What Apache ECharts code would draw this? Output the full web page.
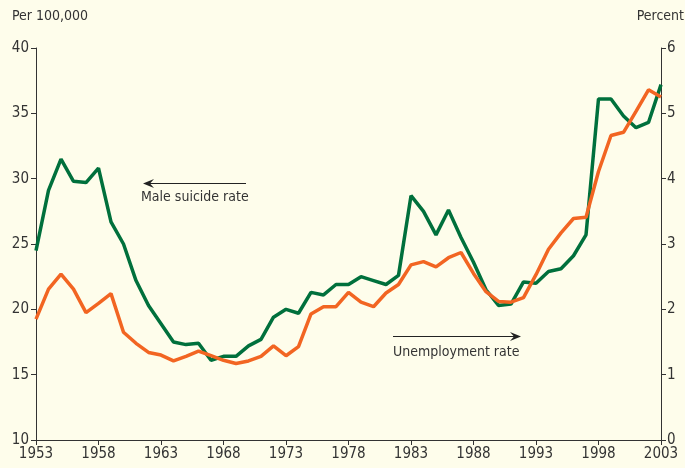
<!DOCTYPE html>
<html>
<head>
<meta charset="utf-8">
<script src="https://cdn.jsdelivr.net/npm/echarts@6/dist/echarts.min.js"></script>
<style>
  html, body { margin: 0; padding: 0; background: #fefdeb; }
  #chart { width: 685px; height: 468px; }
</style>
</head>
<body>
<div id="chart"></div>
<script>
// years 1953..2003
const years = [];
for (let y = 1953; y <= 2003; y++) years.push(String(y));

// male suicide rate, per 100,000 (left axis)
const suicideRate = [
  24.5, 29.1, 31.5, 29.8, 29.7, 30.8, 26.7, 25.0, 22.2, 20.3,
  18.9, 17.5, 17.3, 17.4, 16.1, 16.4, 16.4, 17.2, 17.7, 19.4,
  20.0, 19.7, 21.3, 21.1, 21.9, 21.9, 22.5, 22.2, 21.9, 22.6,
  28.7, 27.5, 25.7, 27.6, 25.5, 23.6, 21.5, 20.3, 20.4, 22.1,
  22.0, 22.9, 23.1, 24.1, 25.7, 36.1, 36.1, 34.8, 33.9, 34.3,
  37.2
];

// unemployment rate, percent (right axis)
const unemployment = [
  1.85, 2.31, 2.54, 2.31, 1.95, 2.09, 2.24, 1.65, 1.48, 1.34,
  1.30, 1.21, 1.28, 1.36, 1.29, 1.22, 1.17, 1.21, 1.28, 1.44,
  1.29, 1.43, 1.93, 2.04, 2.04, 2.26, 2.11, 2.04, 2.25, 2.38,
  2.68, 2.73, 2.65, 2.79, 2.87, 2.55, 2.27, 2.12, 2.11, 2.18,
  2.53, 2.92, 3.17, 3.39, 3.41, 4.11, 4.66, 4.71, 5.03, 5.36,
  5.25
];

const FONT = "'Liberation Sans Narrow', 'DejaVu Sans Condensed', sans-serif";
const TEXT = "#333333";
const AXIS = "#333333";

const chartDom = document.getElementById("chart");
const myChart = echarts.init(chartDom, null, { renderer: "canvas" });

// arrow helper for the two annotations
function arrow(x1, x2, y) {
  const dir = x2 > x1 ? 1 : -1;
  return [
    {
      type: "line",
      shape: { x1: x1, y1: y, x2: x2 - dir * 6, y2: y },
      style: { stroke: "#222", lineWidth: 1.2 },
    },
    {
      type: "polygon",
      shape: {
        points: [[x2, y], [x2 - dir * 11, y - 4.5], [x2 - dir * 7, y], [x2 - dir * 11, y + 4.5]],
      },
      style: { fill: "#222" },
    },
  ];
}

const option = {
  backgroundColor: "#fefdeb",
  animation: false,
  grid: { left: 36, right: 24, top: 48, bottom: 28 },
  xAxis: {
    type: "category",
    data: years,
    boundaryGap: false,
    axisLine: { lineStyle: { color: AXIS, width: 1 } },
    axisTick: { interval: 4, length: 5, lineStyle: { color: AXIS } },
    axisLabel: { interval: 4, color: TEXT, fontFamily: FONT, fontSize: 15, margin: 7 },
    splitLine: { show: false },
  },
  yAxis: [
    {
      type: "value",
      min: 10,
      max: 40,
      interval: 5,
      axisLine: { show: true, lineStyle: { color: AXIS, width: 1 } },
      axisTick: { show: true, length: 5, lineStyle: { color: AXIS } },
      axisLabel: { color: TEXT, fontFamily: FONT, fontSize: 15, margin: 7 },
      splitLine: { show: false },
    },
    {
      type: "value",
      min: 0,
      max: 6,
      interval: 1,
      position: "right",
      axisLine: { show: true, lineStyle: { color: AXIS, width: 1 } },
      axisTick: { show: true, length: 5, lineStyle: { color: AXIS } },
      axisLabel: { color: TEXT, fontFamily: FONT, fontSize: 15, margin: 6 },
      splitLine: { show: false },
    },
  ],
  series: [
    {
      name: "Male suicide rate",
      type: "line",
      yAxisIndex: 0,
      data: suicideRate,
      symbol: "none",
      lineStyle: { color: "#00703c", width: 3.5 },
      z: 3,
    },
    {
      name: "Unemployment rate",
      type: "line",
      yAxisIndex: 1,
      data: unemployment,
      symbol: "none",
      lineStyle: { color: "#f26522", width: 3.5 },
      z: 4,
    },
  ],
  graphic: [
    {
      type: "text",
      left: 12,
      top: 9,
      style: { text: "Per 100,000", fill: TEXT, font: "14px " + FONT },
    },
    {
      type: "text",
      right: 1,
      top: 9,
      style: { text: "Percent", fill: TEXT, font: "14px " + FONT },
    },
    {
      type: "text",
      left: 141,
      top: 190,
      style: { text: "Male suicide rate", fill: TEXT, font: "14px " + FONT },
    },
    {
      type: "text",
      left: 393,
      top: 345,
      style: { text: "Unemployment rate", fill: TEXT, font: "14px " + FONT },
    },
    ...arrow(246, 143, 183.5),
    ...arrow(393, 521, 336.5),
  ],
};

myChart.setOption(option);
</script>
</body>
</html>
